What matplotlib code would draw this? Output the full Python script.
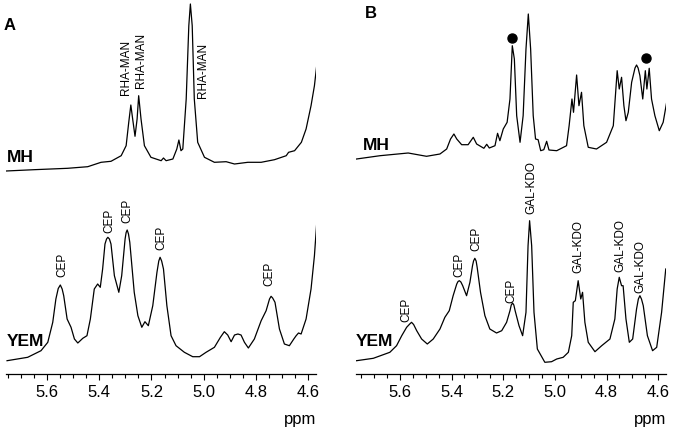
import matplotlib
matplotlib.use("Agg")
import matplotlib.pyplot as plt
from matplotlib.ticker import MultipleLocator

plt.rcParams['font.family'] = ['Liberation Sans', 'DejaVu Sans']

# ---------------- data (ppm, intensity) ----------------
# panel A, MH
a_mh_ppm = [5.757, 5.650, 5.521, 5.444, 5.393, 5.355, 5.316, 5.297, 5.287, 5.279,
            5.272, 5.263, 5.255, 5.249, 5.240, 5.227, 5.202, 5.163, 5.154, 5.144,
            5.118, 5.103, 5.095, 5.087, 5.080, 5.067, 5.057, 5.051, 5.044, 5.036,
            5.023, 4.997, 4.959, 4.914, 4.882, 4.831, 4.780, 4.729, 4.684, 4.675,
            4.652, 4.626, 4.608, 4.589, 4.576, 4.568]
a_mh_int = [0, 1.3, 2.7, 4.3, 8.7, 9.7, 15.3, 25.3, 48.7, 66,
            52, 34.7, 52, 75.3, 52, 25.3, 13.7, 10.3, 13, 10.3,
            12, 22, 31, 20.3, 22, 72, 145.3, 167, 145.3, 72,
            28.7, 13.7, 8.7, 9.3, 7, 8.7, 8.7, 11.3, 15.3, 18.7,
            20.3, 28.7, 42, 65.3, 85.3, 103.7]

# panel A, YEM
a_yem_ppm = [5.753, 5.674, 5.623, 5.597, 5.578, 5.566, 5.557, 5.549, 5.542, 5.536,
             5.523, 5.508, 5.495, 5.482, 5.463, 5.447, 5.434, 5.419, 5.406, 5.396,
             5.387, 5.378, 5.372, 5.367, 5.361, 5.355, 5.342, 5.325, 5.314, 5.301,
             5.297, 5.293, 5.288, 5.283, 5.266, 5.252, 5.237, 5.225, 5.212, 5.195,
             5.179, 5.172, 5.167, 5.161, 5.154, 5.141, 5.125, 5.106, 5.074, 5.042,
             5.016, 4.991, 4.959, 4.936, 4.921, 4.908, 4.895, 4.882, 4.869, 4.857,
             4.844, 4.829, 4.806, 4.780, 4.761, 4.748, 4.742, 4.736, 4.727, 4.710,
             4.691, 4.672, 4.655, 4.646, 4.637, 4.627, 4.608, 4.589, 4.576, 4.567]
a_yem_int = [0.3, 3.7, 10.3, 18.7, 38.7, 62, 72.5, 76, 72, 65.3,
             42, 33.7, 22, 18, 22.7, 25.3, 42, 72, 77, 73.7,
             92, 117, 122, 123.7, 122, 117, 85.3, 68.7, 85.3, 122,
             128.5, 131, 127, 118.7, 68.7, 45.3, 33.7, 39.3, 35.3, 55.3,
             88.7, 100, 103.7, 100, 92, 55.3, 25.3, 15.3, 8.7, 4.3,
             4.3, 8.7, 13.7, 23.7, 29.3, 26, 19.3, 26, 27, 26,
             18.7, 13, 22, 40.3, 50.3, 62, 64.7, 63, 58.7, 32,
             17, 15.3, 22, 25.3, 28, 27, 42, 72, 105.3, 138.7]

# panel B, MH
b_mh_ppm = [5.768, 5.677, 5.568, 5.497, 5.445, 5.419, 5.404, 5.391, 5.380, 5.361,
            5.336, 5.316, 5.303, 5.275, 5.264, 5.254, 5.232, 5.222, 5.213, 5.200,
            5.185, 5.174, 5.165, 5.157, 5.148, 5.135, 5.123, 5.112, 5.103, 5.094,
            5.084, 5.075, 5.065, 5.055, 5.043, 5.032, 5.023, 4.993, 4.955, 4.945,
            4.934, 4.928, 4.916, 4.907, 4.897, 4.888, 4.871, 4.839, 4.800, 4.774,
            4.759, 4.751, 4.742, 4.733, 4.725, 4.716, 4.703, 4.690, 4.684, 4.678,
            4.671, 4.660, 4.650, 4.644, 4.635, 4.626, 4.613, 4.596, 4.581, 4.567]
b_mh_int = [-2, 1.3, 4, 0.7, 3, 8, 18, 23, 18, 12.3,
            12.3, 19.7, 13, 8.7, 12.7, 9, 11.3, 23.7, 16.3, 28,
            34.7, 58, 111.3, 98, 41.3, 14.7, 41.3, 108, 143, 108,
            41.3, 18, 17.3, 6.3, 7.3, 15.7, 7, 6.3, 11.3, 31.3,
            58, 44.7, 82, 51.3, 64.7, 31.3, 9.7, 8, 14.7, 31.3,
            86.3, 68, 79.7, 51.3, 36.3, 44.7, 74.7, 89, 92, 89,
            81.3, 58, 86.3, 68, 88.7, 58, 41.3, 26.3, 34.7, 55.3]

# panel B, YEM
b_yem_ppm = [5.768, 5.703, 5.639, 5.613, 5.593, 5.574, 5.562, 5.555, 5.547, 5.535,
             5.516, 5.494, 5.471, 5.445, 5.426, 5.409, 5.394, 5.380, 5.375, 5.370,
             5.364, 5.357, 5.342, 5.329, 5.319, 5.315, 5.310, 5.305, 5.301, 5.288,
             5.271, 5.252, 5.226, 5.206, 5.187, 5.174, 5.169, 5.164, 5.159, 5.154,
             5.139, 5.125, 5.112, 5.104, 5.098, 5.090, 5.081, 5.068, 5.039, 5.013,
             4.993, 4.968, 4.948, 4.935, 4.929, 4.921, 4.910, 4.900, 4.893, 4.884,
             4.871, 4.845, 4.819, 4.787, 4.768, 4.759, 4.751, 4.742, 4.736, 4.725,
             4.712, 4.699, 4.684, 4.677, 4.671, 4.665, 4.658, 4.642, 4.622, 4.606,
             4.587, 4.571]
b_yem_int = [0.3, 2.7, 8.7, 15.3, 25.3, 33.7, 37, 38.7, 36.5, 30.3,
             22, 17, 22, 32, 43.7, 50.3, 65.3, 77, 79.5, 80.3,
             79, 75.3, 65.3, 78.7, 95.3, 100, 102.7, 100, 93.7, 68.7,
             45.3, 32, 28, 30.3, 38.7, 50.3, 56, 58, 56, 50.3,
             35.3, 25.3, 48.7, 115.3, 140.3, 115.3, 48.7, 12, -1.3, -0.7,
             2, 3.7, 8.7, 25.3, 58.7, 60.3, 80.3, 62, 68.7, 38.7,
             18.7, 9.3, 15.3, 22, 42, 72, 83.7, 75.3, 75.3, 42,
             18.7, 22, 52, 62, 65.3, 62, 55.3, 25.3, 10.3, 13.7,
             48.7, 92]

# peak labels: text, ppm, height of label bottom
a_labels = ["RHA-MAN", "RHA-MAN", "RHA-MAN", "CEP", "CEP", "CEP", "CEP", "CEP"]
a_label_ppm = [5.297, 5.240, 5.003, 5.540, 5.361, 5.293, 5.161, 4.748]
a_label_y = [280, 287, 277, 98, 142, 152, 125, 89]

b_labels = ["CEP", "CEP", "CEP", "CEP", "GAL-KDO", "GAL-KDO", "GAL-KDO", "GAL-KDO"]
b_label_ppm = [5.574, 5.370, 5.303, 5.168, 5.090, 4.910, 4.748, 4.668]
b_label_y = [53, 98, 124, 72, 161, 102, 103, 82]

b_dot_ppm = [5.168, 4.648]
b_dot_y = [336, 316]

##########################################################################

fig = plt.figure(figsize=(6.73, 4.35), dpi=100)
W, H = 673.0, 435.0

panels = [
    dict(left=6, xlim=(5.757, 4.570), letter="A", letter_xy=(4, 26),
         traces=[(a_mh_ppm, a_mh_int, 203, "MH", 5.753, 218),
                 (a_yem_ppm, a_yem_int, 13, "YEM", 5.753, 33)],
         labels=(a_labels, a_label_ppm, a_label_y)),
    dict(left=356, xlim=(5.770, 4.570), letter="B", letter_xy=(365, 13),
         traces=[(b_mh_ppm, b_mh_int, 217, "MH", 5.743, 230),
                 (b_yem_ppm, b_yem_int, 13, "YEM", 5.770, 33)],
         labels=(b_labels, b_label_ppm, b_label_y)),
]

for p in panels:
    ax = fig.add_axes([p["left"] / W, (H - 375) / H, 310 / W, 375 / H])
    for ppm, inten, off, name, nx, ny in p["traces"]:
        ax.plot(ppm, [v + off for v in inten], color='black', lw=0.9)
        ax.text(nx, ny, name, fontsize=12.5, fontweight='bold', ha='left', va='center')
    txt, lx, ly = p["labels"]
    for t, x, y in zip(txt, lx, ly):
        ax.text(x, y, t, rotation=90, fontsize=8.5, ha='center', va='bottom')
    ax.set_xlim(*p["xlim"])
    ax.set_ylim(0, 375)
    for s in ['left', 'right', 'top']:
        ax.spines[s].set_visible(False)
    ax.spines['bottom'].set_linewidth(0.9)
    ax.set_yticks([])
    ax.xaxis.set_major_locator(MultipleLocator(0.2))
    ax.xaxis.set_minor_locator(MultipleLocator(0.05))
    ax.tick_params(axis='x', which='major', direction='out', length=4.5, width=0.8,
                   labelsize=12, pad=3)
    ax.tick_params(axis='x', which='minor', direction='out', length=3, width=0.8)
    ax.set_xticks([5.6, 5.4, 5.2, 5.0, 4.8, 4.6])
    ax.set_xticklabels(["5.6", "5.4", "5.2", "5.0", "4.8", "4.6"])
    ax.patch.set_alpha(0)
    fig.text((p["left"] + 310) / W, 1 - 420 / H, "ppm", fontsize=12,
             ha='right', va='center')
    fig.text(p["letter_xy"][0] / W, 1 - p["letter_xy"][1] / H, p["letter"],
             fontsize=12, fontweight='bold', ha='left', va='center')

ax.plot(b_dot_ppm, b_dot_y, 'o', color='black', ms=6.5, clip_on=False)

fig.savefig("out.png", dpi=100)
